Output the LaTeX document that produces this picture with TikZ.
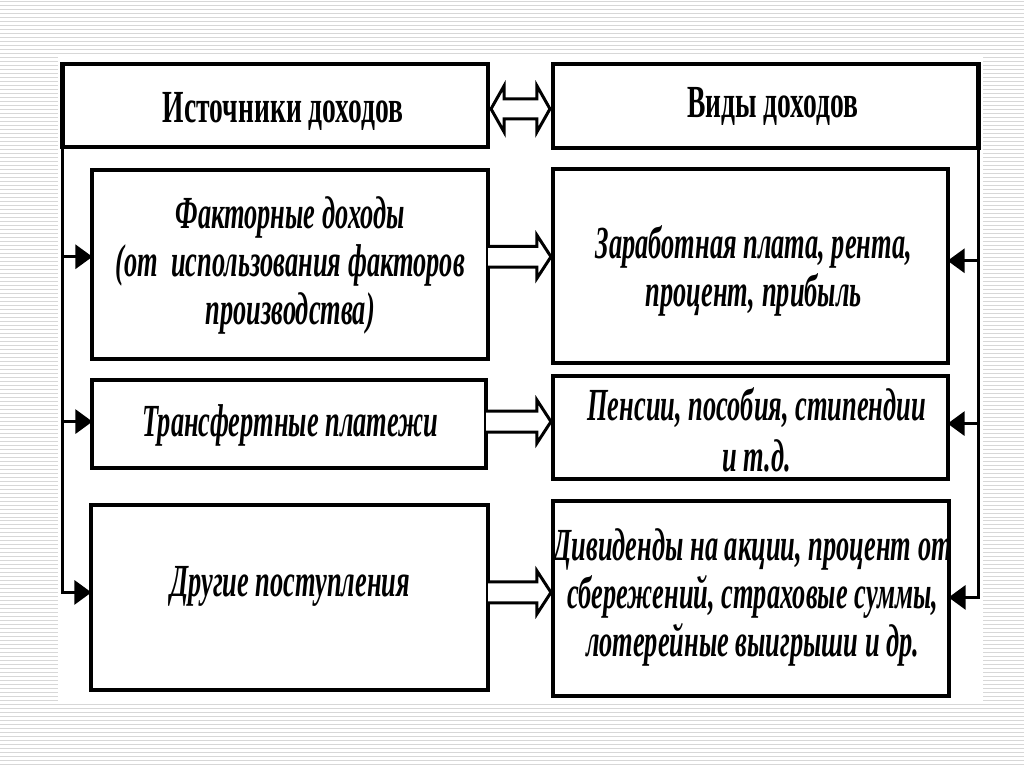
\documentclass[tikz,border=0pt]{standalone}
\usepackage{fontspec}
\setmainfont{Liberation Serif}
\newfontfamily\bodyfont[FakeStretch=0.575]{Liberation Serif}
\newfontfamily\headfont[FakeStretch=0.6]{Liberation Serif}
\usetikzlibrary{arrows.meta,calc}
\definecolor{stripecol}{RGB}{215,215,215}
\newcommand\hollowarrow[2]{%
  \draw[harrow] ($(#1)+(0,-10.5)$) -- ($(#2)+(-16,-10.5)$) -- ($(#2)+(-16,-21.5)$)
    -- ($(#2)+(-2,0)$) -- ($(#2)+(-16,21.5)$) -- ($(#2)+(-16,10.5)$) -- ($(#1)+(0,10.5)$);}
\begin{document}
\begin{tikzpicture}[x=1pt,y=-1pt,
  hbox/.style={draw, line width=4.5pt, inner sep=0pt, outer sep=0pt},
  box/.style={draw, line width=4pt, inner sep=0pt, outer sep=0pt},
  sz/.style 2 args={minimum width=#1pt, minimum height=#2pt},
  txt/.style={align=center, inner sep=0pt, font={\bodyfont\fontsize{46pt}{48pt}\selectfont\bfseries\itshape}},
  htxt/.style={inner sep=0pt, font={\headfont\fontsize{46pt}{47pt}\selectfont\bfseries}},
  bus/.style={line width=3pt, line join=miter},
  tip/.style={-{Triangle[length=17pt,width=24pt]}},
  harrow/.style={draw, fill=white, line width=3pt, line join=miter}]
% background
\fill[white] (0,0) rectangle (1024,768);
\foreach \i in {0,...,191} \draw[stripecol, line width=1pt] (0,\i*4+1.5) -- (1024,\i*4+1.5);
\fill[white] (58,55) rectangle (983,702);
\useasboundingbox (0,0) rectangle (1024,768);
% helper coordinates
\coordinate (ya1) at (0,257);
\coordinate (ya2) at (0,422);
\coordinate (ya3) at (0,593);
\coordinate (yb1) at (0,261);
\coordinate (yb2) at (0,424);
\coordinate (yb3) at (0,598);
\coordinate (yd) at (0,109);
% header boxes
\node[hbox, sz={426}{83}] (hl) at (275,105.5) {};
\node[hbox, sz={426}{84}] (hr) at (766,106) {};
\node[htxt] (hlt) at (283,112) {Источники доходов};
\node[htxt] (hrt) at (773,107) {Виды доходов};
% left boxes
\node[box, sz={396}{189}] (l1) at (290,264.5) {};
\node[box, sz={394}{88}] (l2) at (289,424) {};
\node[box, sz={397}{186}] (l3) at (289.5,598) {};
% right boxes
\node[box, sz={395}{194}] (r1) at (750.5,266) {};
\node[box, sz={395}{103}] (r2) at (750.5,427.5) {};
\node[box, sz={396}{196}] (r3) at (751,599) {};
% texts
\node[txt] (l1t) at (290,266) {Факторные доходы\\(от\ \ использования факторов\\производства)};
\node[txt] (l2t) at (290,426) {Трансфертные платежи};
\node[txt] (l3t) at (290,587) {Другие поступления};
\node[txt] (r1t) at (754,271) {Заработная плата, рента,\\процент, прибыль};
\node[txt] (r2t) at (757,430) {Пенсии, пособия, стипендии\\[3pt]и т.д.};
\node[txt] (r3t) at (753,598) {Дивиденды на акции, процент от\\сбережений, страховые суммы,\\лотерейные выигрыши и др.};
% left bus
\draw[bus, tip] (hl.south west) |- (l3.west |- ya3);
\draw[bus, tip] (hl.south west |- ya1) -- (l1.west |- ya1);
\draw[bus, tip] (hl.south west |- ya2) -- (l2.west |- ya2);
% right bus
\draw[bus, tip] (hr.south east) |- (r3.east |- yb3);
\draw[bus, tip] (hr.south east |- yb1) -- (r1.east |- yb1);
\draw[bus, tip] (hr.south east |- yb2) -- (r2.east |- yb2);
% hollow arrows
\coordinate (s1) at (l1.east |- ya1);
\coordinate (t1) at (r1.west |- ya1);
\coordinate (s2) at (l2.east |- ya2);
\coordinate (t2) at (r2.west |- ya2);
\coordinate (s3) at (l3.east |- ya3);
\coordinate (t3) at (r3.west |- ya3);
\hollowarrow{s1}{t1}
\hollowarrow{s2}{t2}
\hollowarrow{s3}{t3}
% double arrow between headers
\coordinate (d1) at (hl.east |- yd);
\coordinate (d2) at (hr.west |- yd);
\draw[harrow] ($(d1)+(3,0)$) -- ++(13,-23) -- ++(0,13) -- ($(d2)+(-16,-10)$) -- ++(0,-13)
  -- ($(d2)+(-3,0)$) -- ++(-13,23) -- ++(0,-13) -- ($(d1)+(16,10)$) -- ++(0,13) -- cycle;
\end{tikzpicture}
\end{document}
